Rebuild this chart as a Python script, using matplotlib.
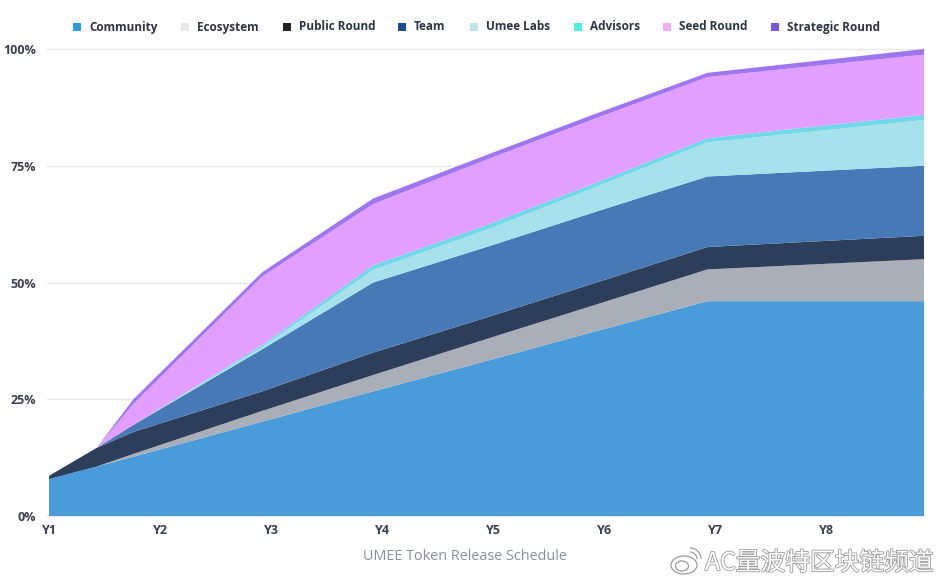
# ================================
# UMEE Token Release Schedule (stacked area)
# ================================

import numpy as np
import matplotlib
matplotlib.use("Agg")
import matplotlib.pyplot as plt
import matplotlib.patheffects as pe
from matplotlib.patches import Rectangle, Ellipse, Arc

# -------------------------------
# Data (percent of supply)
# -------------------------------
years = [1, 1.43, 1.76, 2.92, 3.92, 4.94, 5.93, 6.93, 8.88]

community = [7.9, 10.6, 12.7, 20.2, 26.7, 33.2, 39.6, 46.0, 46.0]
ecosystem = [0, 0, 0.6, 2.3, 3.5, 4.7, 5.7, 6.8, 9.0]
public_round = [0.7, 4.0, 4.7, 4.2, 4.8, 4.6, 4.7, 4.8, 5.0]
team = [0, 0, 1.5, 9.0, 15.0, 15.1, 15.2, 15.1, 15.0]
umee_labs = [0, 0, 0, 0.5, 2.7, 3.7, 5.3, 7.3, 9.8]
advisors = [0, 0, 0, 0.4, 1.0, 1.0, 0.9, 0.9, 1.1]
seed_round = [0, 0, 4.5, 14.7, 13.1, 14.0, 13.8, 13.1, 12.9]
strategic_round = [0, 0, 1.0, 0.9, 1.2, 1.0, 1.0, 0.9, 1.2]

names = ["Community", "Ecosystem", "Public Round", "Team",
         "Umee Labs", "Advisors", "Seed Round", "Strategic Round"]
fill_colors = ["#4A9BD9", "#A9AEB7", "#2C3E5A", "#4679B5",
               "#A6E1EC", "#6FD9E8", "#E29FFF", "#9D76F0"]
legend_colors = ["#2E9BD6", "#E8E8E8", "#222222", "#1F4A8F",
                 "#BFE3E8", "#4FF0DC", "#F0AEF0", "#7B55E0"]

x_ticks = [1, 2, 3, 4, 5, 6, 7, 8]
x_labels = ["Y1", "Y2", "Y3", "Y4", "Y5", "Y6", "Y7", "Y8"]
y_ticks = [0, 25, 50, 75, 100]
y_labels = ["0%", "25%", "50%", "75%", "100%"]

# left edge of each legend swatch, in pixels
legend_x = [73, 181, 283, 398, 470, 574, 663, 771]

# -------------------------------
# Figure
# -------------------------------
plt.rcParams["font.family"] = ["Open Sans", "DejaVu Sans"]

W, H = 943, 584
fig = plt.figure(figsize=(W / 100, H / 100), dpi=100)
ax = fig.add_axes([49 / W, (H - 516) / H, 875 / W, 467 / H])

# grid lines, they start a bit left of the axes
for t in y_ticks:
    ax.plot([0.98, 8.88], [t, t], color="#E8E8E8", lw=1, zorder=0, clip_on=False)

ax.stackplot(years, community, ecosystem, public_round, team,
             umee_labs, advisors, seed_round, strategic_round,
             colors=fill_colors, lw=0, zorder=2)

ax.set_xlim(1, 8.88)
ax.set_ylim(0, 100)
ax.set_xticks(x_ticks, x_labels)
ax.set_yticks(y_ticks, y_labels)
ax.tick_params(length=0, labelcolor="#3A3F4B")
ax.tick_params(axis="x", pad=6)
ax.tick_params(axis="y", pad=9.5)
for lab in ax.get_xticklabels() + ax.get_yticklabels():
    lab.set_fontsize(9)
    lab.set_fontweight("bold")
for s in ax.spines.values():
    s.set_visible(False)

# -------------------------------
# Legend (drawn by hand so all labels sit on one baseline)
# -------------------------------
for px, name, col in zip(legend_x, names, legend_colors):
    fig.add_artist(Rectangle((px / W, 1 - 30.5 / H), 8 / W, 8 / H, color=col,
                             lw=0, transform=fig.transFigure))
    fig.text((px + 16) / W, 1 - 30.5 / H, name, ha="left", va="baseline",
             fontsize=8.5, fontweight="bold", color="#2F3442")

# -------------------------------
# Caption + watermark
# -------------------------------
fig.text(465 / W, 1 - 557 / H, "UMEE Token Release Schedule",
         ha="center", va="center", fontsize=10.4, color="#8A8F99")

wm = fig.text(705 / W, 1 - 563 / H, "AC量波特区块链频道", ha="left", va="center",
              fontsize=17.8, color="white",
              family=["Noto Sans CJK SC", "DejaVu Sans"])
wm.set_path_effects([pe.withStroke(linewidth=1.2, foreground="#9A9A9A")])

# weibo logo next to the watermark
for cx, cy, ew, eh in [(684, 565, 26, 18), (682, 566, 13, 10)]:
    fig.add_artist(Ellipse((cx / W, 1 - cy / H), ew / W, eh / H, fc="white", ec="#9A9A9A",
                           lw=0.9, transform=fig.transFigure))
for size in [14, 22]:
    fig.add_artist(Arc((690 / W, 1 - 559 / H), size / W, size / H, theta1=0, theta2=90,
                       ec="#9A9A9A", lw=0.9, transform=fig.transFigure))

fig.savefig("out.png", dpi=100)
